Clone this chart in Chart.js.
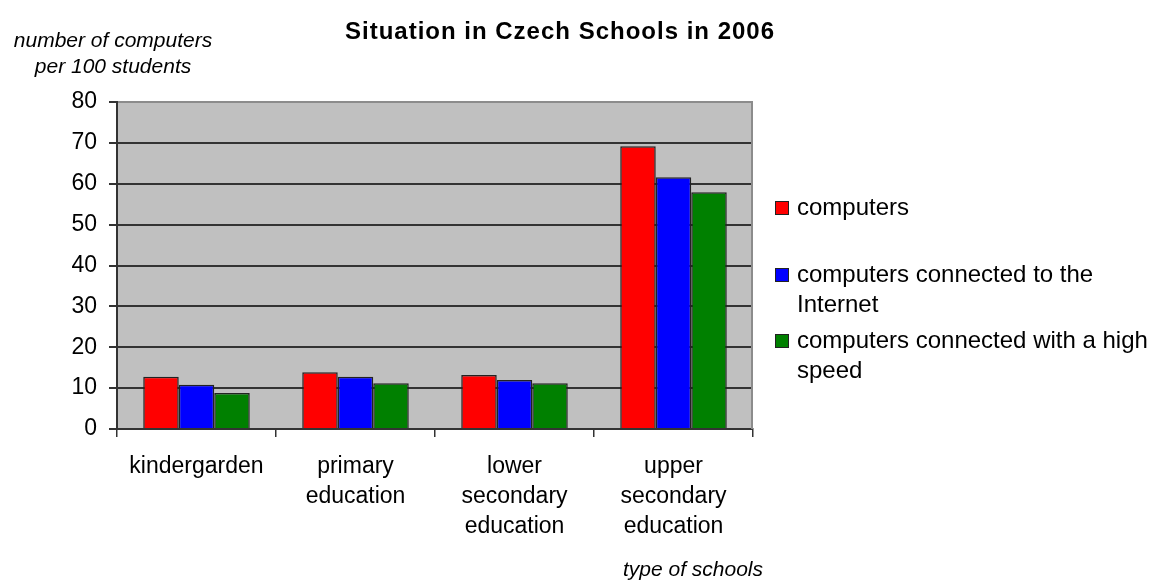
<!DOCTYPE html>
<html>
<head>
<meta charset="utf-8">
<script src="https://cdn.jsdelivr.net/npm/chart.js@4"></script>
<style>
html,body{margin:0;padding:0;background:#fff;}
#wrap{width:1152px;height:581px;position:relative;}
</style>
</head>
<body>
<div id="wrap"><canvas id="c" width="1152" height="581"></canvas></div>
<script>
const chartTitle = 'Situation in Czech Schools in 2006';
const yCaption = ['number of computers', 'per 100 students'];
const xCaption = 'type of schools';
const categories = [['kindergarden'], ['primary', 'education'], ['lower', 'secondary', 'education'], ['upper', 'secondary', 'education']];
const seriesNames = ['computers', 'computers connected to the Internet', 'computers connected with a high speed'];
const computers = [12.8, 13.9, 13.2, 69.2];
const internet = [10.8, 12.8, 12.0, 61.6];
const highSpeed = [8.8, 11.2, 11.2, 57.9];
const yTicks = [0, 10, 20, 30, 40, 50, 60, 70, 80];
const colors = ['#FF0000', '#0000FF', '#008000'];

const FONT = '"Liberation Sans", Arial, sans-serif';
Chart.defaults.font.family = FONT;
Chart.defaults.color = '#000';

function wrapText(ctx, text, maxW) {
  const words = text.split(' ');
  const lines = [];
  let cur = '';
  for (const w of words) {
    const t = cur ? cur + ' ' + w : w;
    if (cur && ctx.measureText(t).width > maxW) { lines.push(cur); cur = w; }
    else cur = t;
  }
  if (cur) lines.push(cur);
  return lines;
}

const decor = {
  id: 'decor',
  beforeDraw(chart) {
    const {ctx, chartArea: a} = chart;
    ctx.save();
    ctx.fillStyle = '#C0C0C0';
    ctx.fillRect(a.left, a.top, a.right - a.left, a.bottom - a.top);
    ctx.restore();
  },
  afterDatasetsDraw(chart) {
    const {ctx, chartArea: a} = chart;
    ctx.save();
    ctx.strokeStyle = '#8C8C8C';
    ctx.lineWidth = 2;
    ctx.beginPath();
    ctx.moveTo(Math.round(a.right) - 1, a.top);
    ctx.lineTo(Math.round(a.right) - 1, a.bottom);
    ctx.stroke();
    ctx.restore();
  },
  afterDraw(chart) {
    const {ctx} = chart;
    ctx.save();
    ctx.fillStyle = '#000';
    // title
    ctx.font = 'bold 24px ' + FONT;
    if ('letterSpacing' in ctx) ctx.letterSpacing = '1px';
    ctx.textAlign = 'center';
    ctx.textBaseline = 'alphabetic';
    ctx.fillText(chartTitle, 560, 39);
    if ('letterSpacing' in ctx) ctx.letterSpacing = '0px';
    // y caption
    ctx.font = 'italic 21px ' + FONT;
    ctx.fillText(yCaption[0], 113, 47);
    ctx.fillText(yCaption[1], 113, 73);
    // x caption
    ctx.fillText(xCaption, 693, 576);
    // legend
    ctx.font = '24px ' + FONT;
    ctx.textAlign = 'left';
    const baselines = [[215], [282, 312], [348, 378]];
    chart.data.datasets.forEach((ds, i) => {
      const lines = wrapText(ctx, ds.label, 358);
      const b0 = baselines[i][0];
      ctx.fillStyle = ds.backgroundColor;
      ctx.fillRect(775, b0 - 14, 14, 14);
      ctx.strokeStyle = '#222';
      ctx.lineWidth = 1;
      ctx.strokeRect(775.5, b0 - 13.5, 13, 13);
      ctx.fillStyle = '#000';
      lines.forEach((ln, j) => ctx.fillText(ln, 797, b0 + j * 30));
    });
    ctx.restore();
  }
};

new Chart(document.getElementById('c'), {
  type: 'bar',
  data: {
    labels: categories,
    datasets: [
      {label: seriesNames[0], data: computers, backgroundColor: colors[0]},
      {label: seriesNames[1], data: internet, backgroundColor: colors[1]},
      {label: seriesNames[2], data: highSpeed, backgroundColor: colors[2]}
    ].map(d => Object.assign(d, {borderColor: '#222', borderWidth: 1.5, barPercentage: 1, categoryPercentage: 0.67}))
  },
  options: {
    responsive: false,
    animation: false,
    events: [],
    layout: {padding: {top: 102, right: 399, bottom: 0, left: 0}},
    plugins: {legend: {display: false}, title: {display: false}, tooltip: {enabled: false}},
    scales: {
      x: {
        offset: true,
        grid: {offset: true, drawOnChartArea: false, color: '#333', tickLength: 8, lineWidth: 1.5},
        border: {color: '#333', width: 2},
        ticks: {font: {size: 23, lineHeight: '30px'}, color: '#000', padding: 15, maxRotation: 0, autoSkip: false},
        afterFit(s) { s.height = 152; }
      },
      y: {
        min: 0, max: 80,
        afterBuildTicks(s) { s.ticks = yTicks.map(v => ({value: v})); },
        grid: {color: c => (c.tick && c.tick.value === 80 ? '#8C8C8C' : '#333'), tickColor: '#333', tickLength: 8, lineWidth: 2},
        border: {color: '#333', width: 2},
        ticks: {font: {size: 23}, color: '#000', padding: 12},
        afterFit(s) { s.width = 117; }
      }
    }
  },
  plugins: [decor]
});
</script>
</body>
</html>
